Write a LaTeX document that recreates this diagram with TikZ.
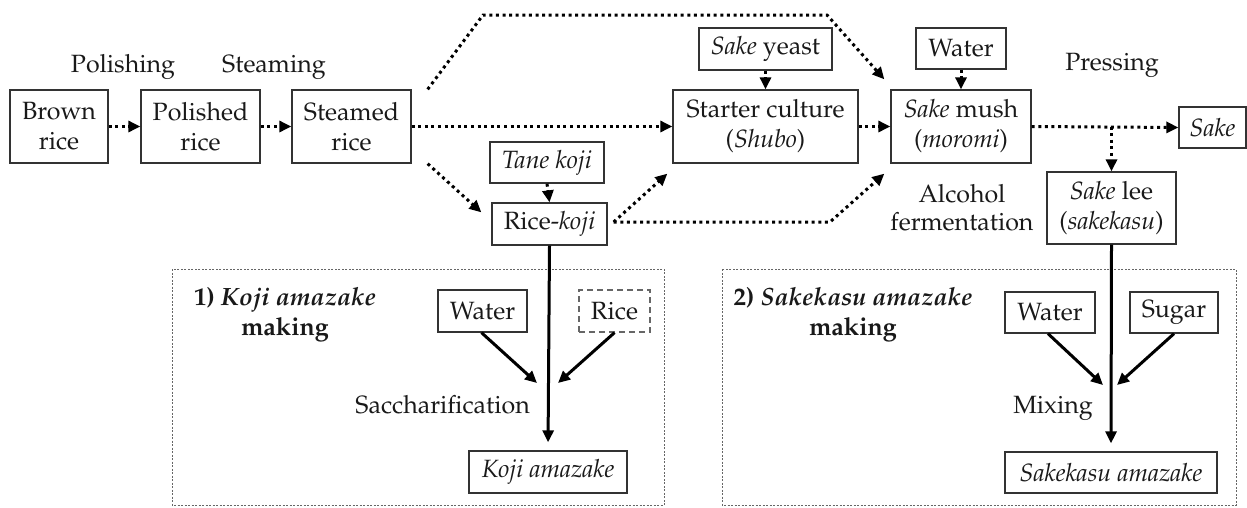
\documentclass[tikz,border=0pt]{standalone}
\usepackage[T1]{fontenc}
\usepackage{mathpazo}
\usetikzlibrary{arrows.meta,calc}
\begin{document}
\begin{tikzpicture}[x=1pt,y=-1pt,
  every node/.style={font=\fontsize{25}{30}\selectfont, text=black!90},
  box/.style={draw=black!80, line width=1.3pt, inner sep=0pt, align=center},
  dotarrow/.style={line width=3pt, dash pattern=on 3pt off 3.6pt, -{Triangle[length=12pt,width=11pt]}},
  solidarrow/.style={line width=3pt, -{Triangle[length=12pt,width=11pt]}},
  frame/.style={draw=black!60, line width=1pt, dash pattern=on 2pt off 1.5pt},
  lbl/.style={anchor=base, inner sep=0pt}]
\useasboundingbox (0,0) rectangle (1247,507);

% top row
\node[box, minimum width=98pt, minimum height=73pt] (brown) at (59,126.5) {Brown\\rice};
\node[box, minimum width=119pt, minimum height=73pt] (polished) at (200.5,126.5) {Polished\\rice};
\node[box, minimum width=119pt, minimum height=73pt] (steamed) at (351.5,126.5) {Steamed\\rice};
\node[box, minimum width=185pt, minimum height=73pt] (starter) at (765.5,126.5) {Starter culture\\(\textit{Shubo})};
\node[box, minimum width=140pt, minimum height=73pt] (mush) at (961,126.5) {\textit{Sake} mush\\(\textit{moromi})};
\node[box, minimum width=133pt, minimum height=42pt] (yeast) at (765.5,49) {\textit{Sake} yeast};
\node[box, minimum width=90pt, minimum height=41pt] (water1) at (961,48.5) {Water};
\node[box, minimum width=67pt, minimum height=41pt] (sake) at (1212.5,127.5) {\textit{Sake}};
\node[box, minimum width=129pt, minimum height=72pt] (lee) at (1111.5,208) {\textit{Sake} lee\\(\textit{sakekasu})};
\node[box, minimum width=114pt, minimum height=41pt] (tane) at (547,162.5) {\textit{Tane koji}};
\node[box, minimum width=115pt, minimum height=42pt] (ricekoji) at (549.5,224) {Rice-\textit{koji}};

% labels
\node[lbl] (polishing) at (123,72) {Polishing};
\node[lbl] (steaming) at (274,72) {Steaming};
\node[lbl] (pressing) at (1112,70) {Pressing};
\node[lbl] (alcohol) at (962,202) {Alcohol};
\node[lbl] (ferment) at (962,230) {fermentation};

% frames
\draw[frame] (172,269) rectangle (664,505);
\draw[frame] (722,269) rectangle (1236,505);

% box 1
\node[lbl] (t1a) at (285,305) {\textbf{1) \textit{Koji amazake}}};
\node[lbl] (t1b) at (285,335) {\textbf{making}};
\node[box, minimum width=89pt, minimum height=42pt] (kwater) at (482.5,311) {Water};
\node[box, draw=black!60, dash pattern=on 6pt off 4pt, minimum width=71pt, minimum height=42pt] (krice) at (614.5,311) {Rice};
\node[box, minimum width=158pt, minimum height=42pt] (kamazake) at (548,472) {\textit{Koji amazake}};
\node[lbl, anchor=base east] (sacch) at (530,413) {Saccharification};

% box 2
\node[lbl] (t2a) at (853,305) {\textbf{2) \textit{Sakekasu amazake}}};
\node[lbl] (t2b) at (853,335) {\textbf{making}};
\node[box, minimum width=90pt, minimum height=41pt] (swater) at (1050,312.5) {Water};
\node[box, minimum width=88pt, minimum height=41pt] (sugar) at (1174,312.5) {Sugar};
\node[box, minimum width=212pt, minimum height=41pt] (samazake) at (1111,472.5) {\textit{Sakekasu amazake}};
\node[lbl, anchor=base east] (mixing) at (1093,413) {Mixing};

% coordinates
\coordinate (b1) at (483,15);
\coordinate (b2) at (827,15);
\coordinate (b3) at (830,222);
\coordinate (br) at (lee.north |- mush.east);
\coordinate (k1) at (537,383);
\coordinate (k2) at (558,383);
\coordinate (s1) at (1103,385);
\coordinate (s2) at (1117,385);

% dotted connectors
\draw[dotarrow] (brown.east) -- (polished.west);
\draw[dotarrow] (polished.east) -- (steamed.west);
\draw[dotarrow] ($(steamed.north east)+(16,0)$) -- (b1) -- (b2) -- ($(mush.north west)+(-6,-10)$);
\draw[dotarrow] (steamed.east) -- (starter.west);
\draw[dotarrow] ($(steamed.south east)+(16,0)$) -- ($(ricekoji.north west)+(-10,10)$);
\draw[dotarrow] (tane.south) -- (ricekoji.north);
\draw[dotarrow] ($(ricekoji.east)+(6,-2)$) -- ($(starter.south west)+(-5,10)$);
\draw[dotarrow] ($(ricekoji.east)+(6,-2)$) -- (b3) -- ($(mush.south west)+(-6,10)$);
\draw[dotarrow] (yeast.south) -- (starter.north);
\draw[dotarrow] (water1.south) -- (mush.north);
\draw[dotarrow] (starter.east) -- (mush.west);
\draw[dotarrow] (mush.east) -- (sake.west);
\draw[dotarrow] (br) -- (lee.north);

% solid connectors
\draw[solidarrow, shorten >=8pt] (ricekoji.south) -- (kamazake.north);
\draw[solidarrow, shorten >=8pt] (lee.south) -- (samazake.north);
\draw[solidarrow] ($(kwater.south)+(-1,0)$) -- (k1);
\draw[solidarrow] (krice.south) -- (k2);
\draw[solidarrow] ($(swater.south)+(-2,0)$) -- (s1);
\draw[solidarrow] (sugar.south) -- (s2);
\end{tikzpicture}
\end{document}
